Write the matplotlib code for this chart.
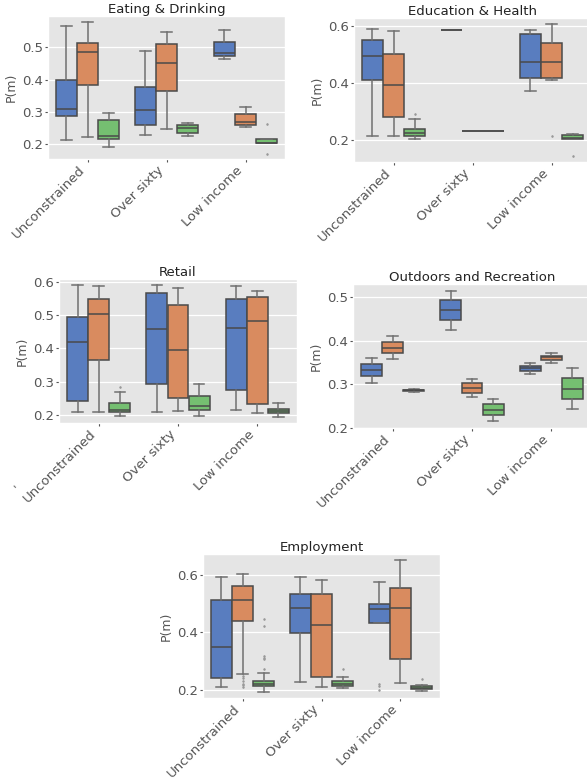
"""
Box plots of P(m) per venue category, split by constraint scenario
"""

import colorsys

import matplotlib
matplotlib.use("Agg")
import matplotlib.colors as mcolors
import matplotlib.pyplot as plt

plt.style.use("ggplot")

W, H = 587, 782

categories = ["Unconstrained", "Over sixty", "Low income"]
# seaborn "muted" palette, one colour per hue level
hue_colors = ["#4878d0", "#ee854a", "#6acc64"]

# box stats per category, per hue: (whislo, q1, median, q3, whishi)
eating_stats = [
    [(0.213, 0.286, 0.308, 0.399, 0.567), (0.221, 0.382, 0.484, 0.514, 0.578), (0.191, 0.215, 0.226, 0.275, 0.298)],
    [(0.228, 0.258, 0.306, 0.376, 0.489), (0.247, 0.365, 0.451, 0.509, 0.548), (0.226, 0.234, 0.249, 0.259, 0.265)],
    [(0.464, 0.472, 0.481, 0.516, 0.553), (0.252, 0.258, 0.268, 0.293, 0.314), (0.203, 0.203, 0.203, 0.215, 0.215)],
]
eating_fliers = [
    [[], [], []],
    [[], [], []],
    [[], [], [0.261, 0.171]],
]

education_stats = [
    [(0.216, 0.413, 0.495, 0.553, 0.591), (0.214, 0.280, 0.395, 0.502, 0.582), (0.204, 0.214, 0.227, 0.241, 0.275)],
    [(0.586, 0.586, 0.586, 0.586, 0.586), (0.232, 0.232, 0.232, 0.232, 0.232), (0.231, 0.231, 0.231, 0.231, 0.231)],
    [(0.373, 0.420, 0.476, 0.574, 0.586), (0.412, 0.418, 0.476, 0.542, 0.608), (0.204, 0.205, 0.209, 0.219, 0.221)],
]
education_fliers = [
    [[], [], [0.293]],
    [[], [], []],
    [[], [0.216], [0.146]],
]

retail_stats = [
    [(0.210, 0.242, 0.418, 0.493, 0.590), (0.210, 0.364, 0.503, 0.547, 0.587), (0.196, 0.209, 0.215, 0.236, 0.270)],
    [(0.210, 0.292, 0.457, 0.566, 0.589), (0.213, 0.252, 0.395, 0.531, 0.580), (0.196, 0.216, 0.226, 0.258, 0.293)],
    [(0.216, 0.276, 0.462, 0.549, 0.586), (0.207, 0.233, 0.483, 0.553, 0.571), (0.195, 0.206, 0.211, 0.218, 0.236)],
]
retail_fliers = [
    [[], [], [0.284]],
    [[], [], []],
    [[], [], []],
]

outdoors_stats = [
    [(0.303, 0.318, 0.333, 0.346, 0.360), (0.358, 0.372, 0.384, 0.397, 0.410), (0.283, 0.285, 0.286, 0.287, 0.2885)],
    [(0.424, 0.447, 0.470, 0.493, 0.516), (0.270, 0.280, 0.292, 0.302, 0.312), (0.216, 0.229, 0.241, 0.255, 0.267)],
    [(0.324, 0.331, 0.337, 0.343, 0.350), (0.350, 0.356, 0.362, 0.366, 0.3725), (0.243, 0.266, 0.290, 0.314, 0.338)],
]
outdoors_fliers = [
    [[], [], []],
    [[], [], []],
    [[], [], []],
]

employment_stats = [
    [(0.210, 0.240, 0.349, 0.514, 0.592), (0.254, 0.441, 0.511, 0.563, 0.602), (0.193, 0.213, 0.221, 0.231, 0.259)],
    [(0.226, 0.397, 0.486, 0.532, 0.592), (0.210, 0.245, 0.425, 0.532, 0.583), (0.207, 0.213, 0.220, 0.231, 0.244)],
    [(0.434, 0.434, 0.482, 0.497, 0.577), (0.222, 0.308, 0.486, 0.556, 0.651), (0.196, 0.202, 0.207, 0.214, 0.215)],
]
employment_fliers = [
    [[], [0.248, 0.240, 0.230, 0.220, 0.215, 0.210], [0.448, 0.423, 0.318, 0.312, 0.306, 0.273]],
    [[], [], [0.272]],
    [[0.221, 0.214, 0.200], [], [0.238]],
]

y_ticks = {
    "eating": [0.2, 0.3, 0.4, 0.5],
    "education": [0.2, 0.4, 0.6],
    "retail": [0.2, 0.3, 0.4, 0.5, 0.6],
    "outdoors": [0.2, 0.3, 0.4, 0.5],
    "employment": [0.2, 0.4, 0.6],
}

BOX_W = 0.8 / 3 * 0.98
LINE = "#4a4a4a"


def desaturate(color, prop=0.75):
    """Scale the HLS saturation, as seaborn's boxplot does by default."""
    h, l, s = colorsys.rgb_to_hls(*mcolors.to_rgb(color))
    return colorsys.hls_to_rgb(h, l, s * prop)


def px_axes(fig, left, top, right, bottom):
    """Add axes from pixel edges measured from the top-left corner."""
    return fig.add_axes([left / W, 1 - bottom / H, (right - left) / W, (bottom - top) / H])


def draw_panel(ax, title, stats, fliers, ticks, ylim):
    for ci in range(len(categories)):
        for hi, color in enumerate(hue_colors):
            lo, q1, med, q3, hi_w = stats[ci][hi]
            box = dict(whislo=lo, q1=q1, med=med, q3=q3, whishi=hi_w, fliers=fliers[ci][hi])
            pos = ci + (hi - 1) * 0.8 / 3
            ax.bxp([box], positions=[pos], widths=BOX_W, patch_artist=True,
                   boxprops=dict(facecolor=desaturate(color), edgecolor=LINE, linewidth=1.1),
                   medianprops=dict(color=LINE, linewidth=1.1),
                   whiskerprops=dict(color="#707070", linewidth=1.1),
                   capprops=dict(color="#707070", linewidth=1.1),
                   flierprops=dict(marker="d", markersize=0.9, markerfacecolor="#999999",
                                   markeredgecolor="#999999"),
                   manage_ticks=False)
    ax.set_xlim(-0.5, 2.5)
    ax.set_ylim(*ylim)
    ax.set_xticks(range(len(categories)))
    ax.set_xticklabels(categories, rotation=45, ha="right")
    ax.set_yticks(ticks)
    ax.set_yticklabels([f"{t:.1f}" for t in ticks])
    ax.tick_params(labelsize=9.5, colors="#555555", length=2, pad=1.5)
    ax.set_ylabel("P(m)", fontsize=9, color="#555555", labelpad=3)
    ax.set_title(title, fontsize=9.5, pad=1.5, color="#222222")
    ax.grid(axis="x", visible=False)
    ax.grid(axis="y", color="white", linewidth=0.9)


fig = plt.figure(figsize=(W / 100, H / 100), dpi=100)

ax1 = px_axes(fig, 48, 16, 285, 159)
draw_panel(ax1, "Eating & Drinking", eating_stats, eating_fliers, y_ticks["eating"], (0.154, 0.597))

ax2 = px_axes(fig, 354, 18, 591, 162)
draw_panel(ax2, "Education & Health", education_stats, education_fliers, y_ticks["education"], (0.1235, 0.629))

ax3 = px_axes(fig, 59, 279, 297, 423)
draw_panel(ax3, "Retail", retail_stats, retail_fliers, y_ticks["retail"], (0.176, 0.608))

ax4 = px_axes(fig, 353, 284, 591, 428)
draw_panel(ax4, "Outdoors and Recreation", outdoors_stats, outdoors_fliers, y_ticks["outdoors"], (0.199, 0.531))

ax5 = px_axes(fig, 203, 554, 440, 698)
draw_panel(ax5, "Employment", employment_stats, employment_fliers, y_ticks["employment"], (0.171, 0.673))

# stray apostrophe left of the Retail tick labels
fig.text(18 / W, 1 - 489 / H, "'", fontsize=9, color="#555555", rotation=45, ha="center", va="center")

fig.savefig("out.png", dpi=100)
